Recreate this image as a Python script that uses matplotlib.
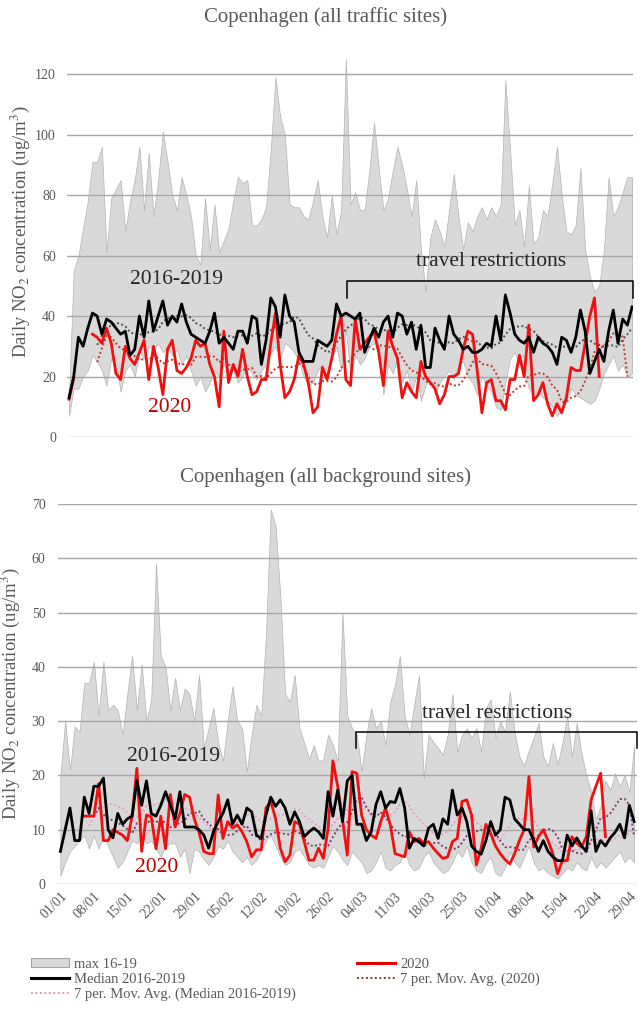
import numpy as np
import pandas as pd
import matplotlib
matplotlib.use('Agg')
import matplotlib.pyplot as plt
from matplotlib.patches import Patch
from matplotlib.lines import Line2D

plt.rcParams['font.family'] = ['Liberation Serif', 'DejaVu Serif']
plt.rcParams['mathtext.fontset'] = 'stix'

nan = np.nan

# 01/01/2020 .. 30/04/2020, one value per day
dates = pd.date_range('2020-01-01', '2020-04-30', freq='D')
tick_labels = [d.strftime('%d/%m') for d in dates[::7]]

# ---- Copenhagen, all traffic sites ----
traffic_max = [14, 55, 60, 69, 78, 91, 91, 96, 61, 79,
               82, 85, 68, 78, 85, 96, 75, 94, 73, 85,
               101, 91, 80, 75, 86, 80, 73, 60, 57, 79,
               62, 77, 61, 65, 69, 78, 86, 84, 85, 70,
               70, 72, 76, 95, 119, 106, 100, 77, 76, 76,
               73, 72, 78, 85, 73, 66, 80, 67, 75, 125,
               77, 81, 75, 75, 88, 104, 89, 75, 79, 88,
               96, 90, 82, 73, 85, 62, 48, 66, 72, 68,
               63, 75, 87, 73, 62, 71, 68, 73, 76, 72,
               76, 73, 77, 118, 95, 70, 75, 63, 83, 64,
               66, 75, 73, 84, 96, 80, 68, 67, 70, 89,
               62, 53, 48, 50, 62, 86, 73, 76, 81, 86,
               86]
traffic_min = [7, 16, 16, 20, 22, 27, 25, 22, 17, 26,
               24, 15, 22, 24, 20, 28, 26, 30, 29, 31,
               28, 30, 27, 29, 24, 27, 22, 17, 20, 15,
               18, 22, 20, 24, 20, 22, 18, 20, 24, 21,
               19, 22, 24, 28, 30, 26, 31, 30, 28, 25,
               20, 17, 18, 22, 24, 20, 26, 30, 22, 36,
               20, 27, 24, 26, 30, 31, 30, 14, 24, 21,
               26, 18, 22, 15, 20, 12, 17, 20, 14, 18,
               20, 22, 19, 24, 25, 20, 18, 14, 20, 17,
               15, 10, 9, 18, 26, 28, 24, 22, 16, 14,
               15, 13, 12, 10, 7, 9, 12, 16, 14, 13,
               12, 11, 12, 16, 21, 24, 27, 22, 24, 20,
               21]
traffic_median = [13, 20, 33, 30, 36, 41, 40, 34, 39, 38,
                  36, 34, 35, 27, 29, 40, 33, 45, 35, 40,
                  45, 37, 40, 38, 44, 38, 34, 33, 32, 31,
                  35, 41, 31, 33, 31, 29, 35, 35, 31, 40,
                  39, 24, 32, 46, 43, 33, 47, 40, 38, 28,
                  25, 25, 25, 32, 31, 30, 32, 44, 40, 41,
                  40, 39, 41, 28, 32, 36, 33, 38, 40, 33,
                  41, 40, 34, 38, 29, 37, 23, 23, 36, 32,
                  29, 40, 34, 32, 29, 30, 28, 28, 29, 31,
                  30, 40, 32, 47, 41, 34, 32, 31, 33, 28,
                  33, 31, 30, 28, 24, 33, 32, 28, 33, 42,
                  35, 21, 25, 29, 25, 35, 42, 31, 39, 37,
                  43]
traffic_2020 = [12.5, 19.5, nan, nan, nan, 34, 33, 31, 36, 31,
                21, 19, 30, 26, 24, 28, 32, 19, 30, 23,
                14, 29, 32, 22, 21, 23, 26, 32, 30, 31,
                24, 20, 10, 35, 18, 24, 20, 29, 20, 14,
                15, 19, 19, 31, 41, 24, 13, 15, 19, 27,
                24, 18, 8, 10, 23, 19, 26, 34, 40, 19,
                17, 39, 29, 31, 33, 35, 28, 17, 35, 30,
                26, 13, 18, 15, 13, 25, 20, 18, 16, 11,
                14, 20, 20, 21, 29, 35, 34, 22, 8, 18,
                19, 12, 12, 9, 19, 19, 27, 20, 37, 12,
                14, 18, 11, 7, 11, 8, 13, 23, 22, 22,
                31, 40, 46, 20, nan, nan, nan, nan, nan, nan,
                nan]

# ---- Copenhagen, all background sites ----
background_max = [20, 30, 21, 29, 28, 37, 37, 41, 31, 41,
                  32, 33, 32, 27.5, 35, 42, 32, 40.5, 30, 34,
                  59, 42, 40, 32, 38, 32, 36, 35, 30, 38.5,
                  25, 28.7, 32.4, 26, 22.6, 30, 36.5, 30, 28.7, 20.7,
                  27.5, 33, 31, 46, 69, 66, 53, 35, 33.6, 38.5,
                  28.7, 26, 23, 25.6, 22.6, 23, 27.5, 25.6, 22.6, 50,
                  31, 28.7, 27.5, 20.7, 27.5, 32.4, 28.7, 30, 25.6, 33.6,
                  36.7, 42, 31, 27.5, 33, 38.5, 19.5, 27.5, 26.2, 25,
                  23.8, 27.5, 35, 24.4, 27.5, 28.7, 26.9, 28.7, 24.4, 32.4,
                  34, 27, 30, 28, 35.5, 28, 23.5, 21.7, 24.7, 27,
                  29.7, 23.5, 21.7, 26, 22, 26, 31, 23.5, 29.7, 24,
                  20, 17, 12, 14.3, 19, 17.3, 20.4, 18, 20, 17,
                  25.4]
background_min = [1.5, 4, 6, 7, 8, 9, 6.5, 9, 6.5, 9,
                  7, 5, 3, 4, 6, 8, 7.5, 9, 7.5, 8,
                  6.5, 5, 7, 7.5, 7.5, 5, 6.5, 2, 6.5, 6,
                  4.5, 3.5, 5, 7, 6.5, 8, 6, 5, 4, 5,
                  3.5, 4.5, 6, 8, 9, 7, 5, 3.5, 4, 6,
                  6.5, 5, 3.5, 3, 3.5, 3, 5, 7, 6, 4.5,
                  3.5, 6, 5, 4, 2, 2.5, 4, 6, 3, 2.5,
                  3.5, 4, 6, 3.5, 2.5, 3, 5, 6, 4, 3,
                  2, 2.5, 4, 6, 5, 7, 4, 2.5, 2, 4,
                  5, 2, 1.5, 3, 6, 4, 3, 5, 7, 4,
                  2.5, 3, 2, 1.5, 1, 2, 3, 2.5, 4, 3,
                  2.5, 5, 3, 4, 3, 4, 5, 6, 4, 5,
                  4]
background_median = [6, 10, 14, 8, 8, 16, 13, 18, 18, 19.5,
                     10, 8.5, 13, 11, 12, 12.5, 19, 14.5, 19, 13,
                     12.5, 14.5, 17, 14.5, 12, 17, 10.5, 10.5, 10.5, 10,
                     9, 6.6, 9.6, 11.5, 13, 15.5, 11, 12.7, 11, 14,
                     13.3, 9, 8.4, 12.7, 16, 14.3, 15.5, 14, 11, 13.3,
                     11.5, 8.7, 9.6, 10.3, 9.6, 8.4, 17, 12.5, 17.3, 11.5,
                     19, 20, 11, 11, 8, 9.6, 14.6, 17, 14, 15.2,
                     15, 17.6, 14, 6.6, 8.4, 7.8, 7, 10.3, 11, 8.4,
                     12, 11, 17.3, 12.7, 14, 11.5, 7, 6, 5.5, 8,
                     11.5, 9, 10, 16, 15.5, 12, 11, 10, 10, 8,
                     6, 8, 6, 5, 4.3, 4.3, 9, 7, 8.5, 7,
                     6, 13.5, 6, 8, 7, 8.5, 9.5, 11, 8.5, 14.5,
                     11.5]
background_2020 = [nan, nan, nan, nan, nan, 12.5, 12.5, 12.5, 18.5, 8,
                   8, 10, 9.5, 9, 8, 12.5, 21.3, 6, 12.7, 12.4,
                   6.5, 12.5, 6.5, 16.5, 10.5, 13, 16.5, 16, 12, 9.5,
                   6, 5.6, 5.6, 16.4, 8.4, 11.5, 10.3, 10.9, 9.6, 7.8,
                   5, 6.3, 6.3, 14, 15.2, 12.1, 6.6, 4.1, 5.3, 11.5,
                   11, 7.8, 4.4, 4.4, 6.6, 4.7, 10.3, 22.7, 18, 12,
                   5.3, 20.7, 20.4, 12.7, 10, 9, 8.4, 11.5, 14, 10.9,
                   5.6, 5.3, 5, 9.6, 7.8, 8.4, 7.5, 7.8, 6.6, 5.6,
                   4.7, 5, 7.8, 8.4, 15.2, 15.5, 12.7, 3.5, 6.6, 11,
                   9.3, 7, 5.6, 4.5, 3.7, 5.6, 8, 10, 19.8, 6.8,
                   8.7, 10, 8, 5.6, 1.9, 4.3, 4.3, 8.7, 7.5, 6.8,
                   8.7, 15.5, 18, 20.4, 8.7, nan, nan, nan, nan, nan,
                   nan]

W, H = 639.0, 1009.0
TEXT = '#595959'


def fig_box(left, top, right, bottom):
    return [left / W, 1 - bottom / H, (right - left) / W, (bottom - top) / H]


def moving_avg(values):
    # Excel style 7 period trailing average, blanks skipped
    s = pd.Series(values, dtype=float).rolling(7, min_periods=1).mean()
    s.iloc[:6] = nan
    return s.values


def draw_panel(ax, vmin, vmax, median, y2020, ma_med_color, ma_2020_color):
    x = np.arange(len(dates))
    ax.fill_between(x, vmin, vmax, facecolor='#d9d9d9', edgecolor='#b3b3b3',
                    linewidth=0.5, zorder=1)
    ax.plot(x, moving_avg(median), color=ma_med_color, lw=1.4,
            linestyle=(0, (1, 1.3)), zorder=3)
    ax.plot(x, moving_avg(y2020), color=ma_2020_color, lw=1.4,
            linestyle=(0, (1, 1.3)), zorder=3)
    ax.plot(x, y2020, color='#f01010', lw=2.0, zorder=4)
    ax.plot(x, median, color='black', lw=2.0, zorder=5)

    ax.set_axisbelow('line')
    ax.yaxis.grid(True, color='#a6a6a6', lw=1.0)
    for sp in ax.spines.values():
        sp.set_visible(False)
    ax.tick_params(axis='both', length=0, labelsize=10, labelcolor=TEXT)
    ax.set_ylabel('Daily NO$_2$ concentration (ug/m$^3$)', fontsize=13.5, color=TEXT)


fig = plt.figure(figsize=(W / 100, H / 100), dpi=100)

# top panel
ax1 = fig.add_axes(fig_box(67, 50, 633, 437))
draw_panel(ax1, traffic_min, traffic_max, traffic_median, traffic_2020,
           '#505050', '#c0392b')
ax1.set_xlim(-0.43, 120.2)
ax1.set_ylim(0, 128)
ax1.set_yticks(range(0, 121, 20))
ax1.set_xticks([])
ax1.tick_params(axis='y', pad=8)
ax1.yaxis.set_label_coords(-0.062, 0.53)
ax1.text(23, 52, '2016-2019', fontsize=15.5, color='#262626', ha='center', va='center', zorder=6)
ax1.text(21.5, 9.6, '2020', fontsize=15.5, color='#c00000', ha='center', va='center', zorder=6)
ax1.text(90, 58, 'travel restrictions', fontsize=15.5, color='#262626', ha='center', va='center', zorder=6)
ax1.plot([59.3, 59.3, 120.1, 120.1], [46, 51.5, 51.5, 46], color='black', lw=1.1,
         zorder=6, clip_on=False)

# bottom panel
ax2 = fig.add_axes(fig_box(58, 504, 637, 884))
draw_panel(ax2, background_min, background_max, background_median, background_2020,
           '#e6a0c4', '#7a3b6e')
ax2.set_xlim(-0.5, 120.6)
ax2.set_ylim(0, 70)
ax2.set_yticks(range(0, 71, 10))
ax2.set_xticks(np.arange(0, len(dates), 7))
ax2.set_xticklabels(tick_labels, rotation=45, ha='right', rotation_mode='anchor')
ax2.tick_params(axis='y', pad=9)
ax2.tick_params(axis='x', pad=4)
ax2.yaxis.set_label_coords(-0.062, 0.5)
ax2.text(23.6, 23.4, '2016-2019', fontsize=15.5, color='#262626', ha='center', va='center', zorder=6)
ax2.text(20.2, 3, '2020', fontsize=15.5, color='#c00000', ha='center', va='center', zorder=6)
ax2.text(91.3, 31.5, 'travel restrictions', fontsize=15.5, color='#262626', ha='center', va='center', zorder=6)
ax2.plot([61.8, 61.8, 120.5, 120.5], [25, 28, 28, 25], color='black', lw=1.1,
         zorder=6, clip_on=False)

fig.text(326 / W, 1 - 17 / H, 'Copenhagen (all traffic sites)', fontsize=15,
         color=TEXT, ha='center', va='center')
fig.text(326 / W, 1 - 477 / H, 'Copenhagen (all background sites)', fontsize=15,
         color=TEXT, ha='center', va='center')

# legend, two columns
left_handles = [Patch(facecolor='#d9d9d9', edgecolor='#a6a6a6', lw=0.8),
                Line2D([], [], color='black', lw=2.2),
                Line2D([], [], color='#d9a0b8', lw=1.4, linestyle=(0, (1, 1.3)))]
left_labels = ['max 16-19', 'Median 2016-2019', '7 per. Mov. Avg. (Median 2016-2019)']
right_handles = [Line2D([], [], color='#e00000', lw=2.2),
                 Line2D([], [], color='#7a3b3b', lw=1.4, linestyle=(0, (1, 1.3)))]
right_labels = ['2020', '7 per. Mov. Avg. (2020)']

leg_kw = dict(loc='upper left', frameon=False, fontsize=10.5, borderpad=0,
              borderaxespad=0, handlelength=2.6, handletextpad=0.35,
              labelspacing=0.12, handleheight=0.55)
leg1 = fig.legend(left_handles, left_labels, bbox_to_anchor=(31 / W, 1 - 958 / H), **leg_kw)
leg2 = fig.legend(right_handles, right_labels, bbox_to_anchor=(357 / W, 1 - 958 / H), **leg_kw)
for leg in (leg1, leg2):
    for t in leg.get_texts():
        t.set_color(TEXT)

fig.savefig('out.png', dpi=100)
